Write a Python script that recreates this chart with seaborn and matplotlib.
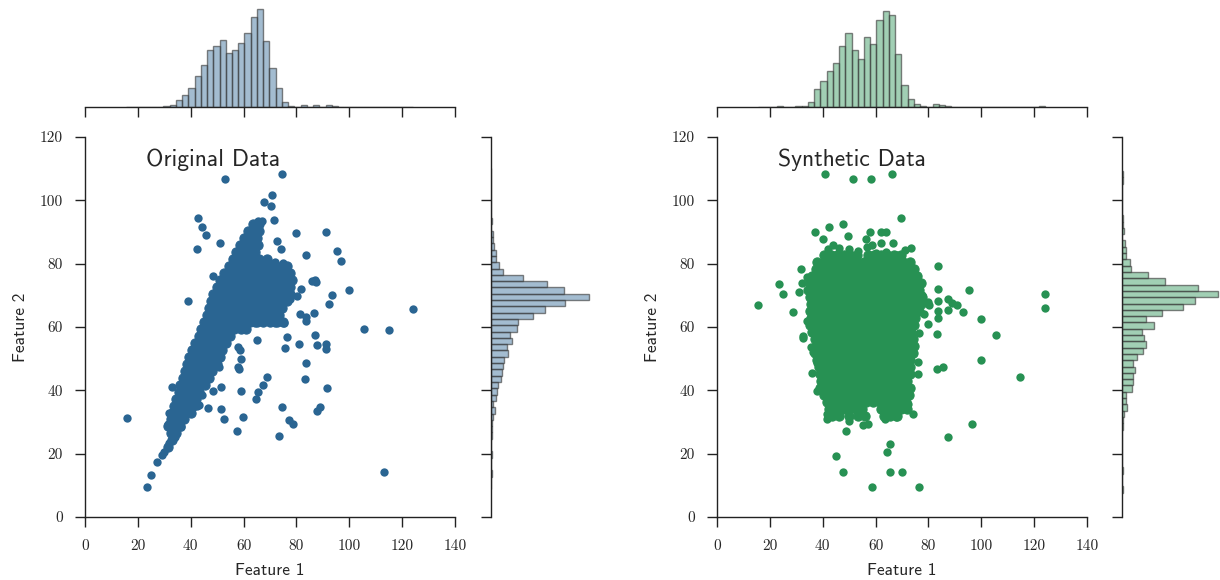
import numpy as np
import pandas as pd
import matplotlib
matplotlib.use("Agg")
import matplotlib.pyplot as plt
import seaborn as sns

# ---------------- data ----------------
x_ticks = [0, 20, 40, 60, 80, 100, 120, 140]
y_ticks = [0, 20, 40, 60, 80, 100, 120]
titles = ["Original Data", "Synthetic Data"]
x_label = "Feature 1"
y_label = "Feature 2"

# dense core of the original data, row by row  {feature2: [feature1, ...]}
orig_core = {
    22.0: [31.5],
    24.2: [33.0],
    26.4: [32.5, 34.5],
    28.6: [31.5, 34.0, 36.0],
    30.8: [32.5, 35.0, 37.5],
    33.0: [33.0, 35.5, 38.0, 40.0],
    35.2: [33.5, 36.0, 38.5, 41.0],
    37.4: [34.5, 37.0, 39.5, 42.0],
    39.6: [35.5, 38.0, 40.5, 43.0],
    41.8: [36.0, 38.5, 41.0, 43.5, 45.5],
    44.0: [37.0, 39.5, 42.0, 44.5, 47.0],
    46.2: [38.0, 40.5, 43.0, 45.5, 48.0],
    48.4: [38.5, 41.0, 43.5, 46.0, 48.5, 50.0],
    50.6: [39.5, 42.0, 44.5, 47.0, 49.5, 51.0],
    52.8: [40.5, 43.0, 45.5, 48.0, 50.5, 52.0],
    55.0: [41.5, 44.0, 46.5, 49.0, 51.5, 53.5],
    57.2: [43.0, 45.5, 48.0, 50.5, 53.0, 55.0],
    59.4: [44.0, 46.5, 49.0, 51.5, 54.0, 56.5, 59.0, 61.0],
    61.6: [45.0, 47.5, 50.0, 52.5, 55.0, 57.5, 60.0, 62.5, 65.0, 67.5, 70.0, 72.5, 75.0],
    63.8: [46.0, 48.5, 51.0, 53.5, 56.0, 58.5, 61.0, 63.5, 66.0, 68.5, 71.0, 73.5],
    66.0: [47.0, 49.5, 52.0, 54.5, 57.0, 59.5, 62.0, 64.5, 67.0, 69.5, 72.0, 74.5],
    68.2: [47.5, 50.0, 52.5, 55.0, 57.5, 60.0, 62.5, 65.0, 67.5, 70.0, 72.5, 75.0, 76.5],
    70.4: [48.5, 51.0, 53.5, 56.0, 58.5, 61.0, 63.5, 66.0, 68.5, 71.0, 73.5, 76.0, 77.5],
    72.6: [50.0, 52.5, 55.0, 57.5, 60.0, 62.5, 65.0, 67.5, 70.0, 72.5, 75.0, 77.5],
    74.8: [51.0, 53.5, 56.0, 58.5, 61.0, 63.5, 66.0, 68.5, 71.0, 73.5, 76.0, 78.5],
    77.0: [52.5, 55.0, 57.5, 60.0, 62.5, 65.0, 67.5, 70.0, 72.5, 75.0, 77.5],
    79.2: [54.5, 57.0, 59.5, 62.0, 64.5, 67.0, 69.5, 72.0, 74.5, 76.5],
    81.4: [56.0, 58.5, 61.0, 63.5, 66.0, 69.0],
    83.6: [57.0, 59.5, 62.0, 64.5],
    85.8: [58.5, 61.0, 63.5, 65.5],
    88.0: [60.0, 62.5, 65.0],
    90.2: [61.5, 64.0, 66.0],
    92.4: [63.5, 66.0],
}
orig_sparse = [
    (15.8, 31.2), (23.6, 9.4), (25.1, 13.2), (27.1, 17.5), (29.0, 19.6), (30.0, 20.6),
    (31.9, 23.3), (34.2, 25.4), (31.3, 29.4), (32.4, 28.8), (31.9, 32.9), (32.8, 41.2),
    (38.8, 68.3), (42.2, 84.6), (42.9, 94.4), (44.4, 91.7), (45.8, 88.9), (51.1, 86.6),
    (48.5, 76.2), (53.0, 106.7), (74.5, 108.4), (70.6, 101.6), (67.6, 99.6), (70.4, 98.3),
    (71.5, 93.8), (67.1, 93.6), (65.6, 93.6), (72.5, 87.1), (74.2, 84.6), (80.0, 89.8),
    (91.3, 90.0), (83.6, 82.7), (95.5, 84.1), (96.7, 80.7), (100.0, 71.7), (124.1, 65.8),
    (93.3, 70.0), (92.2, 67.4), (85.8, 74.6), (87.4, 74.3), (87.0, 75.0), (81.7, 72.0),
    (80.2, 69.9), (77.7, 68.7), (81.3, 64.0), (83.5, 63.1), (83.7, 62.0), (86.8, 64.3),
    (105.7, 59.4), (115.0, 59.1), (87.0, 57.4), (91.2, 54.7), (87.6, 54.3), (91.3, 52.9),
    (80.8, 54.7), (76.5, 56.9), (75.7, 53.3), (83.7, 48.7), (83.3, 43.6), (91.7, 40.8),
    (87.9, 33.6), (88.9, 34.8), (74.5, 34.6), (77.3, 30.6), (78.8, 29.4), (73.5, 25.6),
    (113.0, 14.1), (69.0, 44.2), (67.2, 41.7), (65.6, 39.4), (64.6, 37.2), (59.1, 39.8),
    (59.6, 31.7), (57.4, 27.1), (52.7, 30.8), (51.4, 34.0), (46.7, 34.3), (48.5, 39.8),
    (51.4, 41.1), (58.0, 53.8), (58.6, 52.7), (58.9, 49.9), (58.0, 47.5), (58.1, 46.6),
    (50.8, 47.3), (65.1, 55.8), (64.3, 61.4), (71.9, 61.4), (75.4, 61.4), (44.1, 38.5),
    (46.0, 43.8), (42.2, 35.1), (43.0, 35.4), (69.1, 80.8), (72.0, 80.6), (75.0, 80.3),
    (60.5, 87.5), (36.5, 28.5), (33.5, 28.6), (35.5, 29.2),
]

# dense core of the synthetic data, row by row
syn_core = {
    82.6: [40.5, 43.0, 45.5, 48.0, 50.5, 53.0, 57.0, 59.5, 62.0, 64.5, 67.0, 69.5],
    80.4: [38.0, 40.5, 43.0, 45.5, 48.0, 50.5, 53.0, 55.5, 58.0, 60.5, 63.0, 65.5, 68.0, 70.5, 73.0],
    78.2: [37.5, 40.0, 42.5, 45.0, 47.5, 50.0, 52.5, 55.0, 57.5, 60.0, 62.5, 65.0, 67.5, 70.0, 72.5, 74.5],
    76.0: [36.0, 38.5, 41.0, 43.5, 46.0, 48.5, 51.0, 53.5, 56.0, 58.5, 61.0, 63.5, 66.0, 68.5, 71.0, 73.5, 75.5],
    73.8: [35.0, 37.5, 40.0, 42.5, 45.0, 47.5, 50.0, 52.5, 55.0, 57.5, 60.0, 62.5, 65.0, 67.5, 70.0, 72.5, 75.0, 77.0],
    71.6: [34.5, 36.5, 39.0, 41.5, 44.0, 46.5, 49.0, 51.5, 54.0, 56.5, 59.0, 61.5, 64.0, 66.5, 69.0, 71.5, 74.0, 76.5],
    69.4: [35.0, 37.5, 40.0, 42.5, 45.0, 47.5, 50.0, 52.5, 55.0, 57.5, 60.0, 62.5, 65.0, 67.5, 70.0, 72.5, 75.0, 77.5],
    67.2: [35.5, 38.0, 40.5, 43.0, 45.5, 48.0, 50.5, 53.0, 55.5, 58.0, 60.5, 63.0, 65.5, 68.0, 70.5, 73.0, 75.5, 77.0],
    65.0: [35.0, 37.5, 40.0, 42.5, 45.0, 47.5, 50.0, 52.5, 55.0, 57.5, 60.0, 62.5, 65.0, 67.5, 70.0, 72.5, 75.0, 76.5],
    62.8: [35.5, 38.0, 40.5, 43.0, 45.5, 48.0, 50.5, 53.0, 55.5, 58.0, 60.5, 63.0, 65.5, 68.0, 70.5, 73.0, 75.0],
    60.6: [35.0, 37.5, 40.0, 42.5, 45.0, 47.5, 50.0, 52.5, 55.0, 57.5, 60.0, 62.5, 65.0, 67.5, 70.0, 72.5, 74.5],
    58.4: [36.0, 38.5, 41.0, 43.5, 46.0, 48.5, 51.0, 53.5, 56.0, 58.5, 61.0, 63.5, 66.0, 68.5, 71.0, 73.5],
    56.2: [37.0, 39.5, 42.0, 44.5, 47.0, 49.5, 52.0, 54.5, 57.0, 59.5, 62.0, 64.5, 67.0, 69.5, 72.0, 74.0],
    54.0: [37.5, 40.0, 42.5, 45.0, 47.5, 50.0, 52.5, 55.0, 57.5, 60.0, 62.5, 65.0, 67.5, 70.0, 72.5, 74.5],
    51.8: [37.0, 39.5, 42.0, 44.5, 47.0, 49.5, 52.0, 54.5, 57.0, 59.5, 62.0, 64.5, 67.0, 69.5, 72.0, 74.0],
    49.6: [38.0, 40.5, 43.0, 45.5, 48.0, 50.5, 53.0, 55.5, 58.0, 60.5, 63.0, 65.5, 68.0, 70.5, 73.0],
    47.4: [38.5, 41.0, 43.5, 46.0, 48.5, 51.0, 53.5, 56.0, 58.5, 61.0, 63.5, 66.0, 68.5, 71.0, 73.0],
    45.2: [39.0, 41.5, 44.0, 46.5, 49.0, 51.5, 54.0, 56.5, 59.0, 61.5, 64.0, 66.5, 69.0, 71.5, 73.0],
    43.0: [39.5, 42.0, 44.5, 47.0, 49.5, 52.0, 54.5, 57.0, 59.5, 62.0, 64.5, 67.0, 69.5, 72.0],
    40.8: [39.0, 41.5, 44.0, 46.5, 49.0, 51.5, 54.0, 56.5, 59.0, 61.5, 64.0, 66.5, 69.0, 71.5, 73.0],
    38.6: [40.5, 43.0, 45.5, 48.0, 50.5, 53.0, 55.5, 58.0, 60.5, 63.0, 65.5, 68.0, 70.5, 72.5],
    36.4: [41.5, 44.0, 46.5, 49.0, 51.5, 54.0, 56.5, 59.0, 61.5, 64.0, 66.5, 69.0, 71.5],
    34.2: [42.5, 45.0, 47.5, 50.0, 52.5, 55.0, 62.0, 64.5, 67.0, 69.5, 72.0],
    32.0: [43.5, 46.0, 50.0, 53.5, 56.0, 63.0, 65.5, 68.0],
}
syn_sparse = [
    (15.6, 67.1), (23.5, 73.5), (24.8, 70.4), (28.6, 64.7), (31.8, 78.2), (33.9, 75.9),
    (32.0, 73.8), (31.1, 71.2), (32.7, 56.4), (32.4, 57.2), (35.8, 45.4), (40.9, 108.4),
    (51.3, 106.7), (58.4, 106.7), (66.3, 108.4), (69.6, 94.4), (37.2, 90.1), (42.2, 91.7),
    (47.8, 92.4), (40.2, 87.7), (49.7, 88.7), (57.9, 90.1), (61.9, 90.1), (63.9, 90.1),
    (56.2, 87.8), (58.8, 85.9), (56.6, 85.4), (61.9, 86.6), (66.5, 86.4), (71.0, 84.3),
    (73.4, 84.8), (83.6, 79.2), (95.5, 71.6), (83.6, 71.9), (124.1, 70.5), (124.0, 65.9),
    (80.0, 68.0), (80.2, 66.9), (83.6, 68.3), (83.6, 65.0), (83.6, 62.7), (87.5, 68.7),
    (87.5, 65.4), (90.7, 66.9), (93.2, 64.6), (89.0, 67.5), (100.0, 62.5), (105.4, 57.4),
    (79.7, 60.8), (83.1, 57.7), (100.0, 49.6), (114.8, 44.3), (83.1, 46.8), (85.4, 47.3),
    (76.2, 48.8), (76.0, 45.2), (74.2, 32.4), (96.5, 29.4), (87.4, 25.3), (65.4, 23.2),
    (64.3, 20.4), (45.0, 19.2), (47.5, 14.2), (65.6, 14.2), (70.0, 14.2), (58.5, 9.4),
    (76.3, 9.4), (48.7, 27.1), (55.4, 29.1), (57.3, 29.4), (41.6, 30.8), (41.5, 32.5),
    (45.6, 32.7), (50.1, 30.4), (63.6, 30.8), (67.6, 31.5), (72.4, 35.7), (38.0, 39.8),
    (39.0, 40.6), (35.6, 53.8), (36.4, 52.2), (38.0, 48.5), (77.5, 70.0), (78.5, 64.0),
    (34.0, 62.0), (76.5, 58.0), (44.0, 86.0), (46.0, 85.0), (50.0, 84.5), (53.5, 84.0),
    (42.0, 84.5), (60.0, 83.5), (64.0, 83.8), (68.0, 82.8),
]

# marginal histogram counts (relative bar heights)
x_bin_start, x_bin_width = 15.5, 2.36
orig_x_counts = [1, 0, 0, 1, 1, 1, 2, 5, 22, 36, 56, 94, 127, 170, 181, 200, 161, 169, 191, 221,
                 270, 293, 198, 116, 56, 14, 4, 1, 7, 1, 7, 1, 5, 2, 1, 1, 0, 0, 1, 0,
                 0, 1, 1, 0, 0, 1]
syn_x_counts = [1, 0, 0, 2, 0, 1, 2, 4, 14, 55, 79, 109, 133, 181, 220, 169, 145, 209, 188, 260,
                286, 274, 158, 66, 25, 8, 3, 1, 8, 5, 2, 1, 1, 1, 1, 1, 0, 1, 0, 0,
                0, 0, 1, 0, 0, 2]
orig_y_bin_start, syn_y_bin_start, y_bin_width = 8.8, 7.72, 1.99
orig_y_counts = [1, 0, 2, 0, 1, 2, 0, 1, 2, 2, 3, 5, 13, 5, 16, 18, 20, 30, 32, 35,
                 40, 50, 48, 62, 57, 77, 80, 125, 160, 220, 290, 218, 167, 95, 35, 25, 14, 15, 8, 6,
                 5, 1, 2, 1, 1, 0, 0, 0, 0, 1, 1]
syn_y_counts = [2, 0, 0, 3, 0, 1, 1, 1, 1, 1, 2, 3, 5, 14, 11, 11, 30, 32, 32, 38,
                32, 44, 63, 72, 67, 60, 98, 72, 122, 186, 222, 292, 230, 130, 79, 26, 23, 12, 11, 8,
                0, 6, 2, 2, 1, 0, 0, 0, 0, 2, 2]

# ---------------- style ----------------
sns.set_style("ticks")
plt.rcParams["font.family"] = ["cmss10", "DejaVu Sans"]
plt.rcParams["axes.formatter.use_mathtext"] = True
plt.rcParams["axes.unicode_minus"] = False
TXT = "#262626"
plt.rcParams["axes.edgecolor"] = "#222222"
plt.rcParams["axes.linewidth"] = 1.0

blue = (42 / 255, 101 / 255, 146 / 255)
green = (39 / 255, 145 / 255, 83 / 255)

W, H = 1220, 580
fig = plt.figure(figsize=(W / 100, H / 100), dpi=100)


def core_frame(core):
    xs, ys = [], []
    for yv, row in core.items():
        for xv in row:
            xs.append(xv)
            ys.append(yv)
    return pd.DataFrame({x_label: xs, y_label: ys})


def sparse_frame(sparse):
    return pd.DataFrame(sparse, columns=[x_label, y_label])


def rect(x0, top, w, h):
    return [x0 / W, (H - top - h) / H, w / W, h / H]


def panel(x_main, x_right, w_right, core, sparse, xc, yc, ybin_start, color, title):
    ax = fig.add_axes(rect(x_main, 137, 370, 380))
    ax_t = fig.add_axes(rect(x_main, 4, 370, 103))
    ax_r = fig.add_axes(rect(x_right, 137, w_right, 380))

    # dense core: many overlapping points -> solid area
    sns.scatterplot(data=core_frame(core), x=x_label, y=y_label, ax=ax, color=color, s=44,
                    linewidth=0.8, edgecolor=color, alpha=1.0, zorder=3)
    sns.scatterplot(data=sparse_frame(sparse), x=x_label, y=y_label, ax=ax, color=color,
                    s=36, linewidth=0, alpha=1.0, zorder=3)
    ax.set_xlim(0, 140)
    ax.set_ylim(0, 120)
    ax.set_xticks(x_ticks)
    ax.set_yticks(y_ticks)
    ax.set_xticklabels([str(t) for t in x_ticks], fontfamily="cmr10", fontsize=11, color=TXT)
    ax.set_yticklabels([str(t) for t in y_ticks], fontfamily="cmr10", fontsize=11, color=TXT)
    ax.tick_params(length=7, width=1, pad=9, direction="out", colors="#222222",
                   labelcolor=TXT)
    for s in ("top", "right"):
        ax.spines[s].set_visible(False)
    ax.set_xlabel(x_label, fontsize=12.5, color=TXT, labelpad=7)
    ax.set_ylabel(y_label, fontsize=12.5, color=TXT, labelpad=8)
    ax.text(23, 110.8, title, fontsize=17, color=TXT, va="baseline", ha="left",
            family="cmss10")

    # top marginal
    xe = x_bin_start + x_bin_width * np.arange(len(xc) + 1)
    xcent = xe[:-1] + x_bin_width / 2
    hx = pd.DataFrame({"v": xcent, "w": xc})
    sns.histplot(data=hx, x="v", weights="w", bins=list(xe), ax=ax_t)
    ax_t.set_xlim(0, 140)
    ax_t.set_ylim(0, 308)
    ax_t.set_xticks(x_ticks)
    ax_t.set_yticks([])
    ax_t.tick_params(axis="x", length=7, width=1, direction="out", labelbottom=False,
                     colors="#222222")
    for s in ("top", "right", "left"):
        ax_t.spines[s].set_visible(False)
    ax_t.set_xlabel("")
    ax_t.set_ylabel("")

    # right marginal
    ye = ybin_start + y_bin_width * np.arange(len(yc) + 1)
    ycent = ye[:-1] + y_bin_width / 2
    hy = pd.DataFrame({"v": ycent, "w": yc})
    sns.histplot(data=hy, y="v", weights="w", bins=list(ye), ax=ax_r)
    ax_r.set_ylim(0, 120)
    ax_r.set_xlim(0, 297)
    ax_r.set_yticks(y_ticks)
    ax_r.set_xticks([])
    ax_r.tick_params(axis="y", length=7, width=1, direction="out", labelleft=False,
                     colors="#222222")
    for s in ("top", "right", "bottom"):
        ax_r.spines[s].set_visible(False)
    ax_r.set_xlabel("")
    ax_r.set_ylabel("")

    for a in (ax_t, ax_r):
        for p in a.patches:
            p.set_alpha(None)
            p.set_facecolor((*color, 0.43))
            p.set_edgecolor((0.25, 0.25, 0.25, 0.65))
            p.set_linewidth(1.0)


panel(85, 491, 100, orig_core, orig_sparse, orig_x_counts, orig_y_counts,
      orig_y_bin_start, blue, titles[0])
panel(717, 1122, 98, syn_core, syn_sparse, syn_x_counts, syn_y_counts,
      syn_y_bin_start, green, titles[1])

fig.savefig("out.png", dpi=100)
